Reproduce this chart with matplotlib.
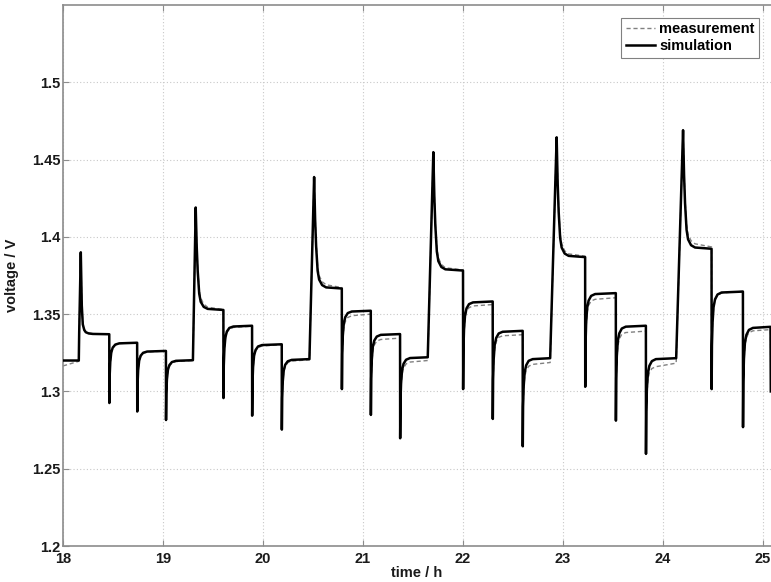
"""
Pulse test: measured vs simulated cell voltage, 18 h - 25 h.
Saves out.png
"""
import matplotlib; matplotlib.use("Agg")
import matplotlib.pyplot as plt

plt.rcParams["font.family"] = ["Liberation Sans", "DejaVu Sans"]
plt.rcParams["font.weight"] = "bold"
plt.rcParams["axes.labelweight"] = "bold"

# curve vertices: one row per pulse segment
# (charge pulse = peak + relaxation, discharge pulse = dip + recovery)
t_h = [
    18.000, 18.158, 18.162, 18.178, 18.188, 18.198, 18.213, 18.228, 18.258, 18.298, 18.463,
    18.464, 18.467, 18.473, 18.483, 18.498, 18.523, 18.563, 18.742,
    18.743, 18.746, 18.752, 18.762, 18.777, 18.802, 18.842, 19.030,
    19.031, 19.034, 19.040, 19.050, 19.065, 19.090, 19.130, 19.300,
    19.328, 19.338, 19.348, 19.363, 19.378, 19.408, 19.448, 19.605,
    19.606, 19.609, 19.615, 19.625, 19.640, 19.665, 19.705, 19.892,
    19.893, 19.896, 19.902, 19.912, 19.927, 19.952, 19.992, 20.189,
    20.190, 20.193, 20.199, 20.209, 20.224, 20.249, 20.289, 20.466,
    20.513, 20.523, 20.533, 20.548, 20.563, 20.593, 20.633, 20.790,
    20.791, 20.794, 20.800, 20.810, 20.825, 20.850, 20.890, 21.080,
    21.081, 21.084, 21.090, 21.100, 21.115, 21.140, 21.180, 21.373,
    21.374, 21.377, 21.383, 21.393, 21.408, 21.433, 21.473, 21.650,
    21.706, 21.716, 21.726, 21.741, 21.756, 21.786, 21.826, 22.003,
    22.004, 22.007, 22.013, 22.023, 22.038, 22.063, 22.103, 22.300,
    22.301, 22.304, 22.310, 22.320, 22.335, 22.360, 22.400, 22.600,
    22.601, 22.604, 22.610, 22.620, 22.635, 22.660, 22.700, 22.875,
    22.940, 22.950, 22.960, 22.975, 22.990, 23.020, 23.060, 23.225,
    23.226, 23.229, 23.235, 23.245, 23.260, 23.285, 23.325, 23.532,
    23.533, 23.536, 23.542, 23.552, 23.567, 23.592, 23.632, 23.833,
    23.834, 23.837, 23.843, 23.853, 23.868, 23.893, 23.933, 24.136,
    24.205, 24.215, 24.225, 24.240, 24.255, 24.285, 24.325, 24.490,
    24.491, 24.494, 24.500, 24.510, 24.525, 24.550, 24.590, 24.804,
    24.805, 24.808, 24.814, 24.824, 24.839, 24.864, 24.904, 25.080, 25.083,
]

v_sim = [
    1.3200, 1.3200, 1.3380, 1.3900, 1.3556, 1.3434, 1.3397, 1.3383, 1.3375, 1.3372, 1.3370,
    1.2925, 1.3101, 1.3190, 1.3253, 1.3284, 1.3303, 1.3311, 1.3315,
    1.2870, 1.3046, 1.3137, 1.3199, 1.3231, 1.3250, 1.3258, 1.3262,
    1.2815, 1.2989, 1.3078, 1.3140, 1.3171, 1.3190, 1.3198, 1.3202,
    1.4190, 1.3938, 1.3779, 1.3633, 1.3580, 1.3547, 1.3534, 1.3527,
    1.2957, 1.3168, 1.3275, 1.3350, 1.3388, 1.3411, 1.3420, 1.3425,
    1.2843, 1.3051, 1.3157, 1.3231, 1.3268, 1.3291, 1.3300, 1.3305,
    1.2753, 1.2958, 1.3063, 1.3136, 1.3173, 1.3195, 1.3204, 1.3209,
    1.4387, 1.4113, 1.3940, 1.3781, 1.3724, 1.3688, 1.3673, 1.3666,
    1.3015, 1.3243, 1.3360, 1.3441, 1.3481, 1.3507, 1.3517, 1.3522,
    1.2848, 1.3083, 1.3204, 1.3287, 1.3329, 1.3355, 1.3366, 1.3371,
    1.2697, 1.2933, 1.3053, 1.3137, 1.3179, 1.3205, 1.3216, 1.3221,
    1.4548, 1.4257, 1.4073, 1.3905, 1.3843, 1.3805, 1.3790, 1.3782,
    1.3015, 1.3270, 1.3401, 1.3491, 1.3537, 1.3565, 1.3576, 1.3582,
    1.2822, 1.3079, 1.3210, 1.3301, 1.3346, 1.3375, 1.3386, 1.3392,
    1.2645, 1.2902, 1.3033, 1.3124, 1.3169, 1.3198, 1.3209, 1.3215,
    1.4644, 1.4350, 1.4164, 1.3993, 1.3931, 1.3892, 1.3877, 1.3869,
    1.3030, 1.3303, 1.3442, 1.3539, 1.3588, 1.3618, 1.3630, 1.3636,
    1.2811, 1.3087, 1.3229, 1.3327, 1.3376, 1.3407, 1.3419, 1.3425,
    1.2596, 1.2875, 1.3017, 1.3116, 1.3166, 1.3196, 1.3209, 1.3215,
    1.4690, 1.4399, 1.4215, 1.4046, 1.3984, 1.3946, 1.3931, 1.3923,
    1.3015, 1.3299, 1.3444, 1.3545, 1.3596, 1.3627, 1.3640, 1.3646,
    1.2769, 1.3061, 1.3210, 1.3314, 1.3366, 1.3398, 1.3411, 1.3418, 1.3000,
]

v_meas = [
    1.3165, 1.3195, 1.3380, 1.3900, 1.3560, 1.3440, 1.3402, 1.3388, 1.3378, 1.3374, 1.3370,
    1.2925, 1.3095, 1.3182, 1.3245, 1.3278, 1.3300, 1.3310, 1.3315,
    1.2870, 1.3040, 1.3130, 1.3192, 1.3225, 1.3246, 1.3255, 1.3262,
    1.2815, 1.2980, 1.3068, 1.3130, 1.3163, 1.3184, 1.3193, 1.3200,
    1.4190, 1.3950, 1.3800, 1.3660, 1.3605, 1.3565, 1.3545, 1.3530,
    1.2957, 1.3160, 1.3265, 1.3340, 1.3380, 1.3404, 1.3414, 1.3422,
    1.2843, 1.3043, 1.3148, 1.3222, 1.3260, 1.3284, 1.3294, 1.3302,
    1.2753, 1.2948, 1.3052, 1.3125, 1.3162, 1.3186, 1.3196, 1.3205,
    1.4387, 1.4130, 1.3965, 1.3810, 1.3750, 1.3710, 1.3690, 1.3672,
    1.3015, 1.3225, 1.3335, 1.3412, 1.3452, 1.3478, 1.3490, 1.3500,
    1.2848, 1.3065, 1.3180, 1.3260, 1.3300, 1.3326, 1.3336, 1.3345,
    1.2697, 1.2915, 1.3030, 1.3110, 1.3152, 1.3178, 1.3190, 1.3200,
    1.4548, 1.4275, 1.4095, 1.3930, 1.3865, 1.3822, 1.3800, 1.3786,
    1.3015, 1.3255, 1.3382, 1.3470, 1.3515, 1.3542, 1.3553, 1.3562,
    1.2822, 1.3060, 1.3188, 1.3277, 1.3322, 1.3350, 1.3360, 1.3367,
    1.2645, 1.2880, 1.3005, 1.3092, 1.3135, 1.3163, 1.3175, 1.3187,
    1.4644, 1.4370, 1.4190, 1.4020, 1.3955, 1.3910, 1.3890, 1.3875,
    1.3030, 1.3280, 1.3415, 1.3510, 1.3557, 1.3585, 1.3596, 1.3606,
    1.2811, 1.3060, 1.3195, 1.3290, 1.3340, 1.3370, 1.3381, 1.3390,
    1.2596, 1.2845, 1.2980, 1.3075, 1.3120, 1.3148, 1.3160, 1.3183,
    1.4690, 1.4420, 1.4240, 1.4080, 1.4015, 1.3975, 1.3955, 1.3935,
    1.3015, 1.3290, 1.3435, 1.3537, 1.3590, 1.3623, 1.3637, 1.3648,
    1.2769, 1.3045, 1.3193, 1.3298, 1.3350, 1.3380, 1.3392, 1.3400, 1.3000,
]

x_ticks = [18, 19, 20, 21, 22, 23, 24, 25]
y_ticks = [1.2, 1.25, 1.3, 1.35, 1.4, 1.45, 1.5]
y_tick_labels = ["1.2", "1.25", "1.3", "1.35", "1.4", "1.45", "1.5"]

W, H = 771, 582
fig = plt.figure(figsize=(W / 100, H / 100), dpi=100)
ax = fig.add_axes([63 / W, 36 / H, 708 / W, 541 / H])

ax.plot(t_h, v_meas, color="#808080", lw=1.0, ls=(0, (3, 2)), label="measurement", zorder=2)
ax.plot(t_h, v_sim, color="black", lw=1.8, label="simulation", zorder=3)

ax.set_xlim(18, 25.085)
ax.set_ylim(1.2, 1.55)
ax.set_xticks(x_ticks)
ax.set_yticks(y_ticks)
ax.set_yticklabels(y_tick_labels)
ax.grid(True, color="#c8c8c8", lw=0.8, ls=(0, (1, 2)))
ax.tick_params(direction="in", length=4, color="#8c8c8c", labelsize=10.5,
               labelcolor="#1a1a1a", top=True)
ax.tick_params(axis="y", pad=2)
ax.tick_params(axis="x", pad=4)

for side in ("left", "bottom", "top"):
    ax.spines[side].set_color("#8c8c8c")
    ax.spines[side].set_linewidth(1.2)
ax.spines["right"].set_visible(False)

ax.set_xlabel("time / h", fontsize=10.5, fontweight="bold", color="#1a1a1a")
ax.set_ylabel("voltage / V", fontsize=10.5, fontweight="bold", color="#1a1a1a")
ax.xaxis.set_label_coords(0.5, -0.063)
ax.xaxis.label.set_va("bottom")
ax.yaxis.set_label_coords(-0.062, 0.5)

leg = ax.legend(loc="upper right", bbox_to_anchor=(0.983, 0.976), borderaxespad=0,
                fontsize=10.5, fancybox=False, framealpha=1, edgecolor="#808080",
                handlelength=2.0, handletextpad=0.3, borderpad=0.3, labelspacing=0.2)
leg.get_frame().set_linewidth(0.8)

fig.savefig("out.png", dpi=100)
